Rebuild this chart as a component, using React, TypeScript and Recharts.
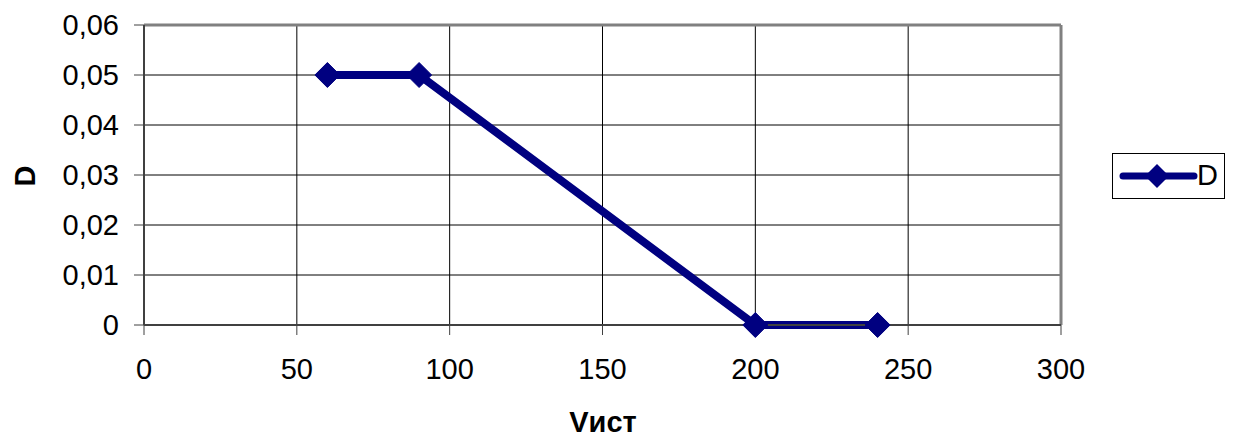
import React from "react";
import {
  LineChart,
  Line,
  XAxis,
  YAxis,
  CartesianGrid,
  ReferenceLine,
} from "recharts";

const vValues = [60, 90, 200, 240];
const dValues = [0.05, 0.05, 0, 0];
const xTicks = [0, 50, 100, 150, 200, 250, 300];
const yTicks = [0, 0.01, 0.02, 0.03, 0.04, 0.05, 0.06];

const NAVY = "#000080";
const FONT = "Arial, 'Liberation Sans', sans-serif";

const data = vValues.map((v, i) => ({ v, d: dValues[i] }));

const formatY = (v: number) => (v === 0 ? "0" : v.toFixed(2).replace(".", ","));

function Diamond(props: any) {
  const { cx, cy } = props;
  if (cx == null || cy == null) return null;
  const r = 12.5;
  return (
    <polygon
      points={`${cx},${cy - r} ${cx + r},${cy} ${cx},${cy + r} ${cx - r},${cy}`}
      fill={NAVY}
      stroke={NAVY}
      strokeWidth={1}
      strokeLinejoin="round"
    />
  );
}

function LegendBox() {
  return (
    <div
      style={{
        position: "absolute",
        left: 1112,
        top: 153,
        width: 113,
        height: 46,
        border: "1px solid #000",
        boxSizing: "border-box",
        background: "#fff",
        fontFamily: FONT,
      }}
    >
      <svg width={80} height={44} style={{ position: "absolute", left: 6, top: 0 }}>
        <line x1={4} y1={22} x2={75} y2={22} stroke={NAVY} strokeWidth={7} strokeLinecap="round" />
        <polygon points="38,10 50,22 38,34 26,22" fill={NAVY} />
      </svg>
      <span
        style={{
          position: "absolute",
          left: 84,
          top: 4,
          fontSize: 29,
          lineHeight: "34px",
          color: "#000",
        }}
      >
        D
      </span>
    </div>
  );
}

export default function App() {
  return (
    <div style={{ position: "absolute", left: 0, top: 0, width: 1235, height: 440, background: "#fff" }}>
      <LineChart
        width={1235}
        height={440}
        data={data}
        margin={{ top: 25, right: 174, bottom: 65, left: 0 }}
      >
        <CartesianGrid stroke="#000" strokeWidth={1} />
        <XAxis
          dataKey="v"
          type="number"
          domain={[0, 300]}
          ticks={xTicks}
          interval={0}
          height={50}
          tickSize={10}
          tickMargin={23}
          stroke="#404040"
          strokeWidth={2}
          tick={{ fill: "#000", fontSize: 29, fontFamily: FONT }}
          tickLine={{ stroke: "#404040", strokeWidth: 1 }}
        />
        <YAxis
          dataKey="d"
          type="number"
          domain={[0, 0.06]}
          ticks={yTicks}
          interval={0}
          width={144}
          tickSize={10}
          tickMargin={15}
          tickFormatter={formatY}
          stroke="#404040"
          strokeWidth={2}
          tick={{ fill: "#000", fontSize: 29, fontFamily: FONT }}
          tickLine={{ stroke: "#404040", strokeWidth: 1 }}
        />
        <ReferenceLine y={0.06} stroke="#808080" strokeWidth={3} />
        <ReferenceLine x={300} stroke="#808080" strokeWidth={3} />
        <Line
          type="linear"
          dataKey="d"
          name="D"
          stroke={NAVY}
          strokeWidth={8}
          dot={<Diamond />}
          activeDot={false}
          isAnimationActive={false}
        />
        <text
          x={603}
          y={432}
          textAnchor="middle"
          fontFamily={FONT}
          fontSize={29}
          fontWeight="bold"
          fill="#000"
        >
          Vист
        </text>
        <text
          x={35}
          y={176}
          textAnchor="middle"
          fontFamily={FONT}
          fontSize={29}
          fontWeight="bold"
          fill="#000"
          transform="rotate(-90 35 176)"
        >
          D
        </text>
      </LineChart>
      <LegendBox />
    </div>
  );
}
